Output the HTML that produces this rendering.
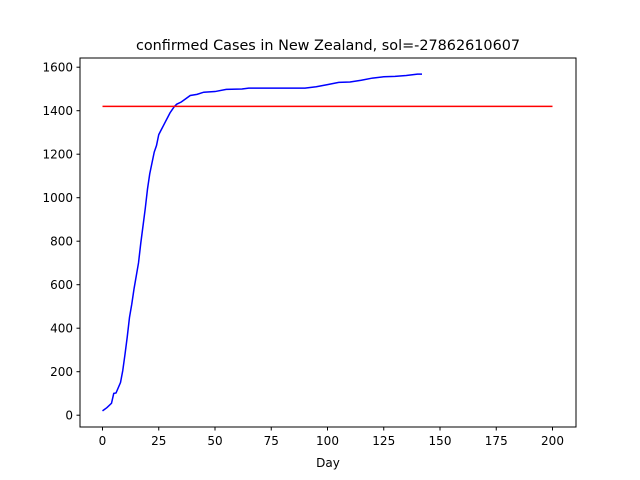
<!DOCTYPE html>
<html><head><meta charset="utf-8"><style>
body{margin:0;background:#fff;}
svg{display:block;font-family:"DejaVu Sans","Liberation Sans",sans-serif;}
</style></head><body>
<svg id="chart" width="640" height="480">
<rect x="0" y="0" width="640" height="480" fill="#fff"/>
<text x="328" y="50" text-anchor="middle" font-size="14.4">confirmed Cases in New Zealand, sol=-27862610607</text>
<g id="axes"></g>
<rect x="80" y="58" width="496" height="369" fill="none" stroke="#000" stroke-width="1"/>
<text x="328" y="467" text-anchor="middle" font-size="12">Day</text>
</svg>
<script>
const days=[0,2,4,5,6,8,9,10,11,12,13,14,15,16,17,18,19,20,21,22,23,24,25,26,27,28,29,30,31,32,33,35,37,39,42,45,50,55,62,65,70,90,95,100,105,110,115,120,125,130,135,140,142];
const cases=[20,35,55,100,102,150,205,280,360,450,510,580,640,700,790,870,950,1040,1110,1160,1210,1240,1290,1310,1330,1350,1370,1390,1405,1420,1430,1440,1455,1470,1475,1485,1488,1498,1500,1504,1504,1504,1510,1520,1530,1532,1540,1550,1556,1558,1562,1568,1568];
const solDays=[0,200];
const solValue=[1420,1420];
const xTicks=[0,25,50,75,100,125,150,175,200];
const yTicks=[0,200,400,600,800,1000,1200,1400,1600];
const NS='http://www.w3.org/2000/svg';
const X=v=>102.5+v*2.25;
const Y=v=>415.2-v*0.2175;
const g=document.getElementById('axes');
function mk(t,a){const e=document.createElementNS(NS,t);for(const k in a)e.setAttribute(k,a[k]);return e;}
xTicks.forEach(t=>{
 const l=mk('line',{x1:X(t),x2:X(t),y1:427,y2:430.5,stroke:'#000'});
 
 
 g.appendChild(l);
 const tx=mk('text',{x:X(t),y:445,'text-anchor':'middle','font-size':12});
 
 
 tx.textContent=t;g.appendChild(tx);
});
yTicks.forEach(t=>{
 const l=mk('line',{x1:76.5,x2:80,y1:Y(t),y2:Y(t),stroke:'#000'});
 
 
 g.appendChild(l);
 const tx=mk('text',{x:73,y:Y(t)+4.3,'text-anchor':'end','font-size':12});
 
 
 tx.textContent=t;g.appendChild(tx);
});
const blue=mk('polyline',{points:days.map((d,i)=>X(d)+','+Y(cases[i])).join(' '),fill:'none',stroke:'#0000ff','stroke-width':1.5});


g.appendChild(blue);
const red=mk('polyline',{points:solDays.map((d,i)=>X(d)+','+Y(solValue[i])).join(' '),fill:'none',stroke:'#ff0000','stroke-width':1.5});


g.appendChild(red);
</script>
</body></html>
